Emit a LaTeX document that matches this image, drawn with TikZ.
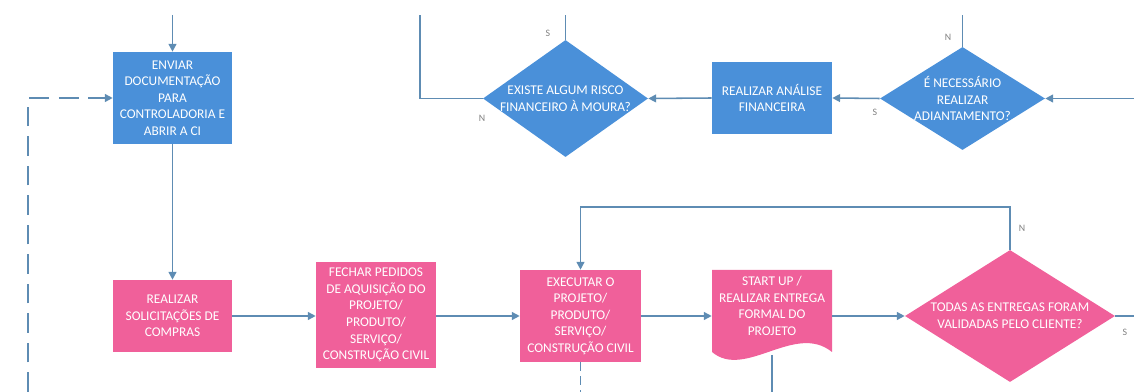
\documentclass[tikz,border=0pt]{standalone}
\usepackage{fontspec}
\setmainfont{Carlito}
\usetikzlibrary{shapes.geometric,arrows.meta}

\definecolor{azul}{HTML}{4A90D9}
\definecolor{rosa}{HTML}{F0609A}
\definecolor{linha}{HTML}{5E8CB3}

\tikzset{
  txt/.style={text=white, align=center, font=\fontsize{9.5}{11.8}\selectfont},
  procA/.style={rectangle, fill=azul, inner sep=0pt, txt},
  procR/.style={rectangle, fill=rosa, inner sep=0pt, txt},
  decA/.style={diamond, fill=azul, inner sep=0pt},
  decR/.style={diamond, fill=rosa, inner sep=0pt},
  fluxo/.style={draw=linha, line width=1.1pt},
  seta/.style={fluxo, -{Triangle[length=5.5pt,width=5.5pt]}},
  tracejada/.style={fluxo, dash pattern=on 14pt off 7pt},
  rot/.style={text=gray, font=\fontsize{7}{8}\selectfont},
}

\begin{document}
\begin{tikzpicture}[x=0.025cm, y=-0.025cm]
    \useasboundingbox (0,0) rectangle (1134,392);

    % linha de cima
    \node[decA, minimum width=4.125cm, minimum height=2.925cm] (risco) at (565.5,98.5) {};
    \node[txt] (risco-t) at (risco) {EXISTE ALGUM RISCO\\FINANCEIRO À MOURA?};
    \node[procA, minimum width=3cm, minimum height=1.8cm] (analise) at (772,98) {REALIZAR ANÁLISE\\FINANCEIRA};
    \node[decA, minimum width=4.125cm, minimum height=2.575cm] (adiant) at (962.5,98.5) {};
    \node[txt] (adiant-t) at (adiant) {É NECESSÁRIO\\REALIZAR\\ADIANTAMENTO?};

    % coluna da esquerda
    \node[procA, minimum width=2.975cm, minimum height=2.3cm] (envia) at (172.5,98) {ENVIAR\\DOCUMENTAÇÃO\\PARA\\CONTROLADORIA E\\ABRIR A CI};
    \node[procR, minimum width=2.975cm, minimum height=1.8cm] (solic) at (172.5,316) {REALIZAR\\SOLICITAÇÕES DE\\COMPRAS};

    % linha de baixo
    \node[procR, minimum width=3cm, minimum height=2.65cm] (fechar) at (376,315) {FECHAR PEDIDOS\\DE AQUISIÇÃO DO\\PROJETO/\\PRODUTO/\\SERVIÇO/\\CONSTRUÇÃO CIVIL};
    \node[procR, minimum width=3.025cm, minimum height=2.3cm] (exec) at (580.5,316) {EXECUTAR O\\PROJETO/\\PRODUTO/\\SERVIÇO/\\CONSTRUÇÃO CIVIL};

    % documento
    \fill[rosa] (712,270) -- (832,270) -- (832,352) .. controls (795,322) and (745,380) .. (712,352) -- cycle;
    \node[minimum width=3cm, minimum height=2.3cm, inner sep=0pt] (startup) at (772,316) {};
    \node[txt] (startup-t) at (772,306) {START UP /\\REALIZAR ENTREGA\\FORMAL DO\\PROJETO};

    \node[decR, minimum width=5.25cm, minimum height=3.3cm] (todas) at (1010,316) {};
    \node[txt] (todas-t) at (todas) {TODAS AS ENTREGAS FORAM\\VALIDADAS PELO CLIENTE?};

    % pontas soltas
    \coordinate (topoEnvia) at (172.5,15);
    \coordinate (topoRisco) at (565.5,15);
    \coordinate (voltaRisco) at (420,15);
    \coordinate (topoAdiant) at (962.5,15);
    \coordinate (dirAdiant) at (1134,98.5);
    \coordinate (dirTodas) at (1134,316);
    \coordinate (loopTodas) at (580.5,207);
    \coordinate (baseTrac) at (28,392);
    \coordinate (baseExec) at (580.5,392);
    \coordinate (baseStart) at (772,392);

    % setas
    \draw[seta] (topoEnvia) -- (envia.north);
    \draw[seta] (envia.south) -- (solic.north);
    \draw[seta] (solic.east) -- (solic.east -| fechar.west);
    \draw[seta] (fechar.east |- exec.west) -- (exec.west);
    \draw[seta] (exec.east) -- (startup.west);
    \draw[seta] (startup.east) -- (todas.west);
    \draw[seta] (todas.north) |- (loopTodas) -- (exec.north);
    \draw[fluxo] (todas.east) -- (dirTodas);
    \draw[seta] (dirAdiant) -- (adiant.east);
    \draw[fluxo] (adiant.north) -- (topoAdiant);
    \draw[seta] (adiant.west) -- (analise.east);
    \draw[seta] (analise.west) -- (risco.east);
    \draw[fluxo] (risco.north) -- (topoRisco);
    \draw[fluxo] (risco.west) -| (voltaRisco);
    \draw[fluxo] (772,355) -- (baseStart);

    % tracejadas
    \draw[tracejada, -{Triangle[length=5.5pt,width=5.5pt]}] (baseTrac) |- (envia.west);
    \draw[fluxo, dash pattern=on 6pt off 4pt] (exec.south) -- (baseExec);

    % rotulos S / N
    \node[rot] (sRisco) at (548,33) {S};
    \node[rot] (nRisco) at (482,118) {N};
    \node[rot] (sAdiant) at (875,112) {S};
    \node[rot] (nAdiant) at (948,37) {N};
    \node[rot] (nTodas) at (1022,228) {N};
    \node[rot] (sTodas) at (1125,332) {S};
  \end{tikzpicture}
\end{document}
